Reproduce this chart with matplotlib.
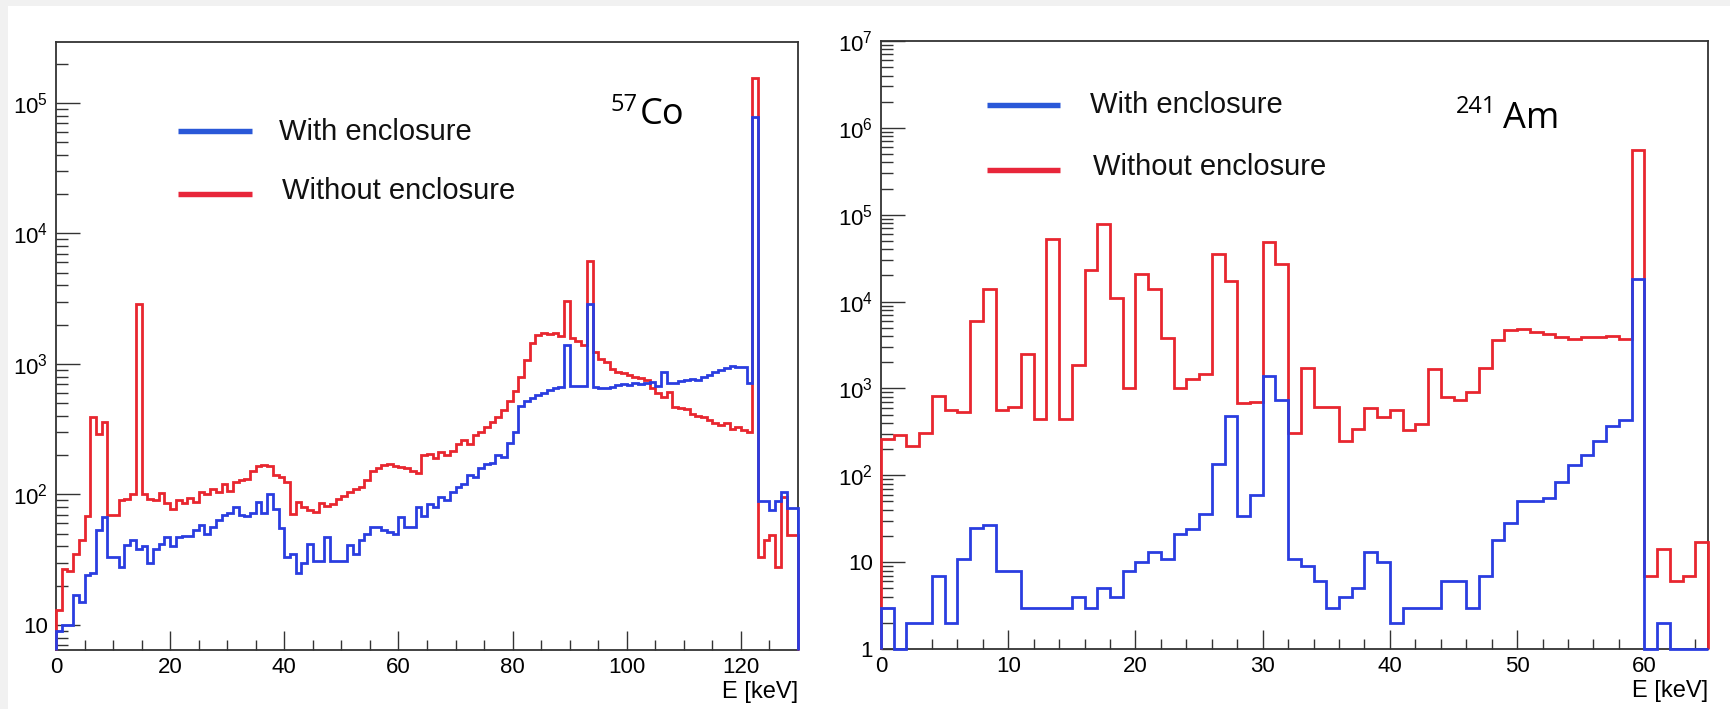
import numpy as np
import matplotlib
matplotlib.use('Agg')
import matplotlib.pyplot as plt
from matplotlib.ticker import FixedLocator, FixedFormatter, LogLocator, NullFormatter, MultipleLocator
from matplotlib.patches import Rectangle
from matplotlib.lines import Line2D

# ---------------- data (counts per 1 keV bin) ----------------
co57_without = [13, 27, 26, 35, 45, 68, 390, 290, 360, 70,
                70, 90, 92, 100, 2900, 100, 92, 90, 102, 86,
                78, 90, 86, 94, 87, 104, 100, 110, 104, 121,
                107, 124, 128, 132, 150, 165, 168, 165, 140, 135,
                125, 71, 88, 80, 76, 74, 86, 82, 85, 92,
                98, 104, 110, 115, 128, 152, 160, 168, 170, 165,
                162, 160, 152, 145, 200, 205, 190, 212, 200, 215,
                245, 260, 245, 285, 300, 330, 360, 395, 440, 520,
                620, 800, 1070, 1450, 1680, 1720, 1700, 1720, 1650, 3050,
                1590, 1500, 1400, 6150, 1230, 1100, 1040, 920, 860, 850,
                820, 800, 780, 760, 660, 600, 560, 610, 470, 460,
                450, 410, 400, 390, 370, 350, 340, 350, 320, 330,
                310, 300, 155000, 33, 45, 49, 28, 95, 49, 49]
co57_with = [9, 10, 10, 17, 15, 24, 25, 53, 67, 33,
             33, 28, 41, 45, 38, 40, 30, 38, 42, 47,
             40, 47, 48, 48, 53, 58, 50, 56, 64, 70,
             72, 80, 70, 68, 72, 88, 72, 101, 78, 55,
             33, 35, 25, 30, 42, 31, 31, 47, 31, 31,
             31, 41, 35, 45, 50, 56, 56, 53, 52, 50,
             67, 56, 56, 80, 68, 85, 80, 95, 90, 105,
             115, 120, 140, 135, 160, 170, 175, 200, 195, 250,
             300, 480, 520, 550, 580, 600, 630, 650, 670, 1400,
             680, 680, 680, 2890, 670, 660, 650, 670, 690, 700,
             690, 710, 700, 720, 730, 680, 870, 720, 720, 740,
             760, 770, 760, 800, 830, 860, 900, 930, 960, 950,
             950, 720, 78000, 89, 89, 76, 89, 104, 79, 79]

am241_without = [265, 290, 217, 309, 815, 563, 533, 5950, 13800, 572,
                 615, 2480, 439, 53200, 439, 1840, 23000, 77800, 11000, 1020,
                 21000, 14100, 3830, 1020, 1280, 1460, 35700, 17300, 671, 702,
                 49000, 27000, 307, 1730, 618, 618, 250, 341, 588, 464,
                 570, 334, 389, 1680, 800, 745, 914, 1730, 3630, 4740,
                 4840, 4460, 4240, 3860, 3660, 3940, 3860, 4060, 3660, 560000,
                 7, 14, 6, 7, 17]
am241_with = [3, 1, 2, 2, 7, 2, 11, 25, 27, 8,
              8, 3, 3, 3, 3, 4, 3, 5, 4, 8,
              10, 13, 11, 21, 24, 36, 135, 480, 34, 59,
              1380, 737, 11, 9, 6, 3, 4, 5, 13, 10,
              2, 3, 3, 3, 6, 6, 3, 7, 18, 28,
              50, 50, 55, 83, 132, 171, 245, 370, 432, 18000,
              1, 2, 1, 1, 1]

co57_xticks = [0, 20, 40, 60, 80, 100, 120]
co57_xlabels = ['0', '20', '40', '60', '80', '100', '120']
co57_yticks = [10, 1e2, 1e3, 1e4, 1e5]
co57_ylabels = ['10', r'$10^{2}$', r'$10^{3}$', r'$10^{4}$', r'$10^{5}$']
am241_xticks = [0, 10, 20, 30, 40, 50, 60]
am241_xlabels = ['0', '10', '20', '30', '40', '50', '60']
am241_yticks = [1, 10, 1e2, 1e3, 1e4, 1e5, 1e6, 1e7]
am241_ylabels = ['1', '10', r'$10^{2}$', r'$10^{3}$', r'$10^{4}$', r'$10^{5}$', r'$10^{6}$', r'$10^{7}$']

legend_labels = ['With enclosure', 'Without enclosure']
xlabel = 'E [keV]'

# ---------------- style ----------------
plt.rcParams['font.family'] = ['Liberation Sans', 'DejaVu Sans']
plt.rcParams['mathtext.fontset'] = 'custom'
plt.rcParams['mathtext.rm'] = 'Liberation Sans'
plt.rcParams['mathtext.it'] = 'Liberation Sans:italic'
plt.rcParams['mathtext.bf'] = 'Liberation Sans:bold'

W, H = 1730, 709
RED = '#e8262f'
BLUE = '#2a3de0'
LEG_BLUE = '#2a58d8'
LEG_RED = '#e8263a'
FRAME = '#333333'

def fx(x):
    return x / W

def fy(y):
    return 1 - y / H

fig = plt.figure(figsize=(W / 100, H / 100), dpi=100)
fig.patch.set_facecolor('#f1f1f1')
bg = Rectangle((fx(8), 0), 1, fy(6), transform=fig.transFigure,
               facecolor='white', edgecolor='none', zorder=-10)
fig.patches.append(bg)

def make_axes(l, t, r, b):
    return fig.add_axes([fx(l), fy(b), fx(r) - fx(l), fy(t) - fy(b)])

ax1 = make_axes(56, 42, 798, 650)
ax2 = make_axes(881, 41, 1708, 649)

def style(ax, xlim, ylim, xt, xl, yt, yl, xminor):
    ax.set_facecolor('white')
    ax.set_yscale('log')
    ax.set_xlim(*xlim)
    ax.set_ylim(*ylim)
    ax.xaxis.set_major_locator(FixedLocator(xt))
    ax.xaxis.set_major_formatter(FixedFormatter(xl))
    ax.xaxis.set_minor_locator(MultipleLocator(xminor))
    ax.yaxis.set_major_locator(FixedLocator(yt))
    ax.yaxis.set_major_formatter(FixedFormatter(yl))
    ax.yaxis.set_minor_locator(LogLocator(base=10, subs=np.arange(2, 10)))
    ax.yaxis.set_minor_formatter(NullFormatter())
    ax.tick_params(axis='x', which='major', direction='in', length=13.5, width=1.0,
                   color=FRAME, labelsize=16, pad=5, top=False)
    ax.tick_params(axis='x', which='minor', direction='in', length=7, width=1.0,
                   color=FRAME, top=False)
    ax.tick_params(axis='y', which='major', direction='in', length=17, width=1.0,
                   color=FRAME, labelsize=16, pad=6, right=False)
    ax.tick_params(axis='y', which='minor', direction='in', length=8.5, width=1.0,
                   color=FRAME, right=False)
    for s in ax.spines.values():
        s.set_color(FRAME)
        s.set_linewidth(1.3)

style(ax1, (0, 130), (6.43, 2.93e5), co57_xticks, co57_xlabels,
      co57_yticks, co57_ylabels, 5)
style(ax2, (0, 65), (1, 1e7), am241_xticks, am241_xlabels,
      am241_yticks, am241_ylabels, 2)

edges_co = np.arange(len(co57_without) + 1, dtype=float)
edges_am = np.arange(len(am241_without) + 1, dtype=float)

ax1.stairs(co57_without, edges_co, baseline=6.43, color=RED, lw=2.0, zorder=3, clip_on=False)
ax1.stairs(co57_with, edges_co, baseline=6.43, color=BLUE, lw=2.0, zorder=3.1, clip_on=False)
ax2.stairs(am241_without, edges_am, baseline=1, color=RED, lw=2.0, zorder=3, clip_on=False)
ax2.stairs(am241_with, edges_am, baseline=1, color=BLUE, lw=2.0, zorder=3.1, clip_on=False)

# legends (drawn as TLegend-like entries)
def legend_entry(x0, x1, yline, tx, tbase, label, color):
    fig.lines.append(Line2D([fx(x0), fx(x1)], [fy(yline), fy(yline)],
                            transform=fig.transFigure, color=color, lw=3.9,
                            solid_capstyle='butt'))
    fig.text(fx(tx), fy(tbase), label, fontsize=21, ha='left', va='baseline',
             color='#111111')

legend_entry(178, 252, 131, 279, 140, legend_labels[0], LEG_BLUE)
legend_entry(178, 252, 194, 282, 199, legend_labels[1], LEG_RED)
legend_entry(987, 1060, 105, 1090, 113, legend_labels[0], LEG_BLUE)
legend_entry(987, 1060, 170, 1093, 175, legend_labels[1], LEG_RED)

# isotope labels
fig.text(fx(610), fy(111), '57', fontsize=17, family='Open Sans', ha='left', va='baseline')
fig.text(fx(640), fy(124), 'Co', fontsize=26, family='Open Sans', ha='left', va='baseline')
fig.text(fx(1456), fy(113), '241', fontsize=17, family='Open Sans', ha='left', va='baseline')
fig.text(fx(1503), fy(128), 'Am', fontsize=26, family='Open Sans', ha='left', va='baseline')

# axis titles
fig.text(fx(798), fy(692), xlabel, fontsize=17, ha='right', va='center')
fig.text(fx(1708), fy(691), xlabel, fontsize=17, ha='right', va='center')

fig.savefig('out.png', dpi=100, facecolor=fig.get_facecolor())
